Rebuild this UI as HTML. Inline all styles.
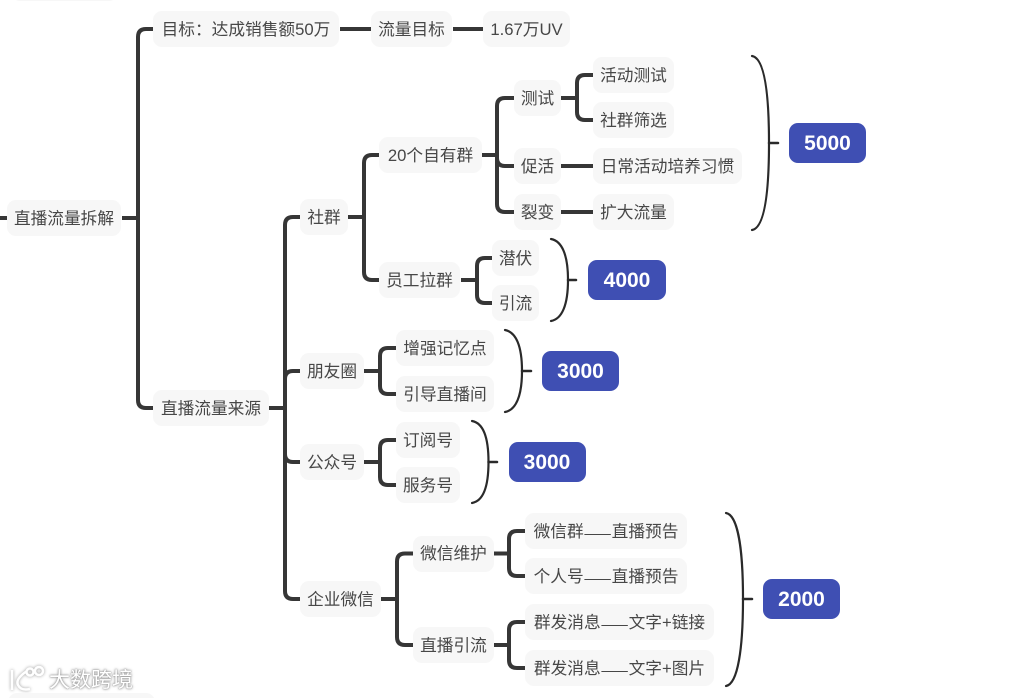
<!DOCTYPE html>
<html lang="zh">
<head>
<meta charset="utf-8">
<title>直播流量拆解</title>
<style>
html,body{margin:0;padding:0;background:#fff;}
#c{position:relative;width:1013px;height:698px;overflow:hidden;background:#fff;font-family:"Liberation Sans","Noto Sans CJK SC",sans-serif;}
svg{position:absolute;left:0;top:0;}
.n{position:absolute;height:36px;box-sizing:border-box;padding-top:2px;background:#f7f7f7;border-radius:9px;display:flex;align-items:center;justify-content:center;font-size:16.7px;color:#474747;white-space:nowrap;line-height:1;}
.n i{font-style:normal;font-family:"Noto Sans CJK SC",sans-serif;}
.b{position:absolute;width:77px;height:40px;background:#3f4fb3;border-radius:9px;display:flex;align-items:center;justify-content:center;font-size:21px;font-weight:700;color:#fff;line-height:1;}
.w{position:absolute;white-space:nowrap;color:#fff;text-shadow:0 0 2px #999,0 0 3px #aaa,0 0 1px #888;line-height:1;}
</style>
</head>
<body>
<div id="c">
<svg width="1013" height="698" viewBox="0 0 1013 698" fill="none">
<g stroke="#363636" stroke-width="4" stroke-linecap="butt">
<path d="M0 218H7"/>
<path d="M122 218H138"/>
<path d="M153 29H146Q138 29 138 37V400Q138 408 146 408H153"/>
<path d="M340 29H371M453 29H483"/>
<path d="M269 408H285"/>
<path d="M300 217H293Q285 217 285 225V591Q285 599 293 599H300"/>
<path d="M285 379Q285 371 293 371H300"/>
<path d="M285 454Q285 462 293 462H300"/>
<path d="M348 217H364"/>
<path d="M379 155H372Q364 155 364 163V272Q364 280 372 280H379"/>
<path d="M482 155H497"/>
<path d="M514 98H505Q497 98 497 106V204Q497 212 505 212H514"/>
<path d="M497 158Q497 166 505 166H514"/>
<path d="M561 98H577"/>
<path d="M593 75H585Q577 75 577 83V112Q577 120 585 120H593"/>
<path d="M561 166H593M561 212H593"/>
<path d="M461 280H477"/>
<path d="M492 258H485Q477 258 477 266V295Q477 303 485 303H492"/>
<path d="M364 371H380"/>
<path d="M396 348H388Q380 348 380 356V386Q380 394 388 394H396"/>
<path d="M364 462H380"/>
<path d="M396 440H388Q380 440 380 448V477Q380 485 388 485H396"/>
<path d="M381 599H397"/>
<path d="M413 553.500H405Q397 553.500 397 561.500V637Q397 645 405 645H413"/>
<path d="M494 553.500H509"/>
<path d="M525 531H517Q509 531 509 539V568Q509 576 517 576H525"/>
<path d="M494 645H509"/>
<path d="M525 622H517Q509 622 509 630V660Q509 668 517 668H525"/>
</g>
<g stroke="#2a2a2a" stroke-width="2.200" stroke-linecap="round">
<path d="M752 56C764 58 769 90 769 143C769 196 764 228 752 230"/>
<path d="M769 143H778" stroke-width="2.500"/>
<path d="M551 239C562 241 568 255 568 280C568 305 562 319 551 321"/>
<path d="M568 280H576" stroke-width="2.500"/>
<path d="M505 330C516 332 522 346 522 371C522 396 516 410 505 412"/>
<path d="M522 371H531" stroke-width="2.500"/>
<path d="M472 421C483 423 488.500 437 488.500 462C488.500 487 483 501 472 503"/>
<path d="M488.500 462H497" stroke-width="2.500"/>
<path d="M726 513C738 515 743 550 743 599C743 648 738 684 726 686"/>
<path d="M743 599H752" stroke-width="2.500"/>
</g>
<g stroke="#fff" stroke-width="2.500" style="filter:drop-shadow(0 0 1.500px #999)">
<path d="M12 670V690M27 671Q15 679 18 685Q21 691 30 689"/>
<circle cx="30" cy="672" r="3.500"/>
<circle cx="39" cy="671" r="4"/>
</g>
</svg>
<div class="n" style="left:11px;top:-35px;width:107px">&nbsp;</div>
<div class="n" style="left:8px;top:693px;width:147px">&nbsp;</div>

<div class="n" style="left:7px;top:200px;width:114px">直播流量拆解</div>
<div class="n" style="left:153px;top:11px;width:186px">目标：达成销售额50万</div>
<div class="n" style="left:371px;top:11px;width:81px">流量目标</div>
<div class="n" style="left:483px;top:11px;width:87px">1.67万UV</div>
<div class="n" style="left:153px;top:390px;width:116px">直播流量来源</div>

<div class="n" style="left:300px;top:199px;width:48px">社群</div>
<div class="n" style="left:379px;top:137px;width:103px">20个自有群</div>
<div class="n" style="left:514px;top:80px;width:47px">测试</div>
<div class="n" style="left:593px;top:57px;width:81px">活动测试</div>
<div class="n" style="left:593px;top:102px;width:81px">社群筛选</div>
<div class="n" style="left:514px;top:148px;width:47px">促活</div>
<div class="n" style="left:593px;top:148px;width:149px">日常活动培养习惯</div>
<div class="n" style="left:514px;top:194px;width:47px">裂变</div>
<div class="n" style="left:593px;top:194px;width:81px">扩大流量</div>
<div class="n" style="left:379px;top:262px;width:81px">员工拉群</div>
<div class="n" style="left:492px;top:240px;width:47px">潜伏</div>
<div class="n" style="left:492px;top:285px;width:47px">引流</div>

<div class="n" style="left:300px;top:353px;width:64px">朋友圈</div>
<div class="n" style="left:396px;top:330px;width:98px">增强记忆点</div>
<div class="n" style="left:396px;top:376px;width:98px">引导直播间</div>

<div class="n" style="left:300px;top:444px;width:64px">公众号</div>
<div class="n" style="left:396px;top:422px;width:64px">订阅号</div>
<div class="n" style="left:396px;top:467px;width:64px">服务号</div>

<div class="n" style="left:300px;top:581px;width:81px">企业微信</div>
<div class="n" style="left:413px;top:535.500px;width:81px">微信维护</div>
<div class="n" style="left:413px;top:627px;width:81px">直播引流</div>
<div class="n" style="left:525px;top:513px;width:162px">微信群<i>——</i>直播预告</div>
<div class="n" style="left:525px;top:558px;width:162px">个人号<i>——</i>直播预告</div>
<div class="n" style="left:525px;top:604px;width:189px">群发消息<i>——</i>文字+链接</div>
<div class="n" style="left:525px;top:650px;width:189px">群发消息<i>——</i>文字+图片</div>

<div class="b" style="left:789px;top:123px">5000</div>
<div class="b" style="left:588px;top:260px;width:78px">4000</div>
<div class="b" style="left:542px;top:351px">3000</div>
<div class="b" style="left:508.500px;top:442px">3000</div>
<div class="b" style="left:763px;top:579px">2000</div>

<div class="w" style="left:49px;top:670px;font-size:21px;font-family:'Liberation Sans','WenQuanYi Zen Hei',sans-serif">大数跨境</div>
</div>
</body>
</html>
